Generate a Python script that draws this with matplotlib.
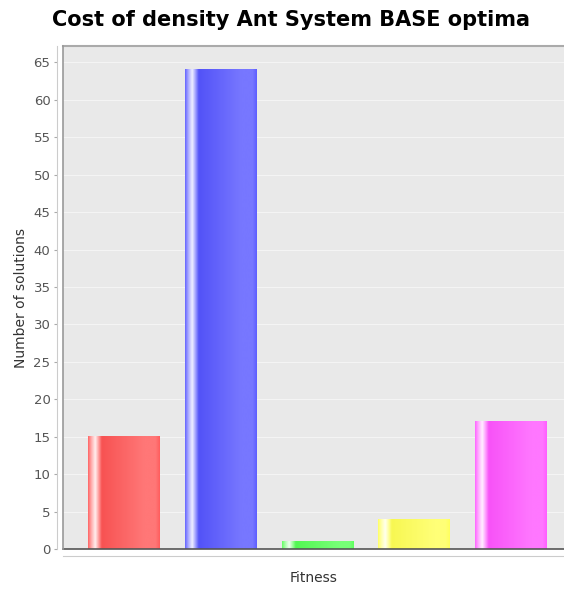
import numpy as np
import matplotlib
matplotlib.use("Agg")
import matplotlib.pyplot as plt
from matplotlib.colors import to_rgb

# Data
categories = ["A", "B", "C", "D", "E"]
counts = [15, 64, 1, 4, 17]
bar_colors = ["#ff5555", "#5555ff", "#55ff55", "#ffff55", "#ff55ff"]
y_ticks = list(range(0, 70, 5))

W, H = 564, 589
fig = plt.figure(figsize=(W / 100, H / 100), dpi=100)
fig.patch.set_facecolor("white")

left, right, top, bottom = 63, 564, 46, 549
ax = fig.add_axes([left / W, 1 - bottom / H, (right - left) / W, (bottom - top) / H])
ax.set_facecolor("#e9e9e9")

ymax = max(counts) * 1.05
xlo, xhi = -0.63, 4.548

# horizontal grid
for t in y_ticks:
    ax.axhline(t, color="#f4f4f4", lw=0.8, zorder=0.5)


def gradient_row(base):
    r = np.array(to_rgb(base))
    white = np.ones(3)
    light = r + (white - r) * 0.2
    stops = [
        (0.00, r * 0.9 + white * 0.1),
        (0.05, r + (white - r) * 0.55),
        (0.10, r + (white - r) * 0.9),
        (0.15, r + (white - r) * 0.4),
        (0.19, r * 0.97),
        (0.78, light),
        (0.94, light),
        (1.00, r * 0.95 + white * 0.05),
    ]
    xs = np.linspace(0, 1, 200)
    row = np.zeros((1, len(xs), 3))
    for c in range(3):
        row[0, :, c] = np.interp(xs, [s[0] for s in stops], [s[1][c] for s in stops])
    return np.clip(row, 0, 1)


bar_w = 0.74
for i, (v, col) in enumerate(zip(counts, bar_colors)):
    x0 = i - bar_w / 2
    ax.imshow(gradient_row(col), extent=[x0, x0 + bar_w, 0, v],
              aspect="auto", interpolation="bilinear", zorder=2)
ax.set_xlim(xlo, xhi)
ax.set_ylim(0, ymax)

# zero line and plot border
ax.axhline(0, color="#555555", lw=1.2, zorder=3, clip_on=False)
ax.axhline(ymax, color="#aaaaaa", lw=1.5, zorder=3, clip_on=False)
ax.axvline(xlo, color="#999999", lw=1.2, zorder=3, clip_on=False)

for s in ["top", "right"]:
    ax.spines[s].set_visible(False)
ax.spines["left"].set_position(("outward", 4))
ax.spines["left"].set_color("#cccccc")
ax.spines["bottom"].set_position(("outward", 5))
ax.spines["bottom"].set_color("#cccccc")

ax.set_yticks(y_ticks)
ax.set_xticks([])
ax.tick_params(axis="y", length=2, width=0.8, color="#aaaaaa",
               labelsize=9.5, labelcolor="#555555", pad=3)

ax.set_ylabel("Number of solutions", fontsize=10, color="#333333", labelpad=4)
ax.set_xlabel("Fitness", fontsize=10, color="#333333", labelpad=11)

fig.text(291 / W, 1 - 20 / H, "Cost of density Ant System BASE optima",
         ha="center", va="center", fontsize=15, fontweight="bold", color="black")

fig.savefig("out.png", dpi=100)
